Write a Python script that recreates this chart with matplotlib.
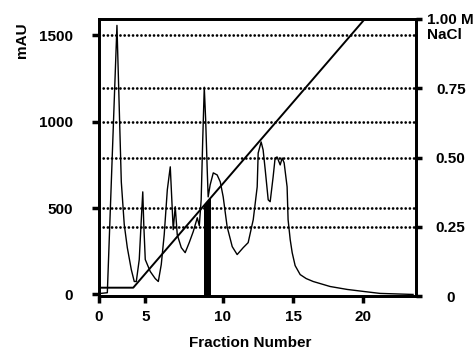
import numpy as np
import matplotlib
matplotlib.use("Agg")
import matplotlib.pyplot as plt

plt.rcParams['font.family'] = ['Liberation Sans', 'DejaVu Sans']
plt.rcParams['font.weight'] = 'bold'
plt.rcParams['font.size'] = 11

# chromatogram (fraction number, mAU)
fraction = [0.0, 0.9, 1.94, 2.41, 2.73, 3.06, 3.49, 3.81, 4.03, 4.35, 4.57, 4.73,
            4.84, 5.0, 5.32, 5.64, 5.84, 6.03, 6.22, 6.42, 6.61, 6.71, 6.80, 6.93,
            7.06, 7.32, 7.57, 7.83, 8.09, 8.35, 8.48, 8.60, 8.70, 8.80, 8.89, 8.99,
            9.05, 9.18, 9.38, 9.63, 9.83, 10.02, 10.30, 10.66, 11.01, 11.44, 11.79,
            12.15, 12.43, 12.50, 12.71, 12.85, 13.00, 13.21, 13.35, 13.56, 13.70,
            13.84, 14.06, 14.20, 14.34, 14.55, 14.62, 14.77, 14.91, 15.12, 15.48,
            15.91, 16.41, 17.62, 18.84, 20.05, 21.19, 23.55]
mau = [5, 10, 1558, 652, 404, 271, 144, 75, 75, 202, 433, 594,
       404, 202, 133, 92, 75, 173, 346, 606, 739, 548, 375, 508,
       346, 271, 242, 300, 364, 444, 398, 548, 894, 1200, 1010, 721,
       565, 635, 704, 692, 652, 565, 392, 277, 231, 271, 300,
       433, 623, 819, 883, 837, 721, 548, 537, 681, 790,
       796, 750, 790, 762, 623, 433, 317, 242, 167, 115,
       92, 75, 46, 29, 17, 6, 0]

# NaCl gradient
grad_x = [0.0, 3.7, 20.1]
grad_m = [0.03, 0.03, 1.0]

# collected (active) fractions, shaded bar
pool = [8.75, 9.2]

mau_grid = [500, 1000, 1500]
nacl_grid = [0.25, 0.50, 0.75]
x_ticks = [0, 5, 10, 15, 20]
nacl_ticks = [0, 0.25, 0.50, 0.75, 1.00]
nacl_labels = ['0', '0.25', '0.50', '0.75', '1.00 M']

# the printed fraction axis is not evenly spaced; follow its tick positions
knots_x = [-5, 0, 5, 10, 15, 20, 40]
knots_p = [52.4, 98.7, 145, 222.7, 293.3, 363.3, 643.3]
fwd = lambda v: np.interp(v, knots_x, knots_p)
inv = lambda p: np.interp(p, knots_p, knots_x)

fig = plt.figure(figsize=(4.77, 3.52), dpi=100)
ax = fig.add_axes([99 / 477, 56 / 352, 317 / 477, 277 / 352])
ax.set_xscale('function', functions=(fwd, inv))
ax2 = ax.twinx()

ax.set_xlim(0, 23.76)
ax.set_ylim(-9, 1595)
ax2.set_ylim(0, 1)

dots = dict(color='black', ls=(0, (0.01, 1.5)), lw=2.0,
            dash_capstyle='round', zorder=1)
for v in mau_grid:
    ax.axhline(v, **dots)
for v in nacl_grid:
    ax2.axhline(v, **dots)

ax.plot(fraction, mau, color='black', lw=1.0, zorder=3)
ax2.plot(grad_x, grad_m, color='black', lw=1.4)

xs = np.linspace(pool[0], pool[1], 20)
ax2.fill_between(xs, 0, np.interp(xs, grad_x, grad_m), color='black', lw=0)

ax.set_xticks(x_ticks)
ax.set_xticklabels([str(t) for t in x_ticks])
ax.xaxis.set_minor_locator(plt.NullLocator())
ax.set_yticks([0, 500, 1000, 1500])
ax2.set_yticks(nacl_ticks)
ax2.set_yticklabels(nacl_labels)
for lab in ax2.get_yticklabels():
    lab.set_horizontalalignment('center')

for a in (ax, ax2):
    for s in a.spines.values():
        s.set_linewidth(2.0)
ax.tick_params(axis='x', direction='out', length=5, width=2.5, pad=5)
ax.tick_params(axis='y', direction='out', length=5, width=2.5, pad=14)
ax2.tick_params(axis='y', direction='out', length=4, width=2.5, pad=21)

fig.text(22 / 477, 1 - 40 / 352, 'mAU', rotation=90, ha='center', va='center')
fig.text(427 / 477, 1 - 35 / 352, 'NaCl', ha='left', va='center')
fig.text(250 / 477, 1 - 343 / 352, 'Fraction Number', ha='center', va='center')

fig.savefig('out.png', dpi=100)
